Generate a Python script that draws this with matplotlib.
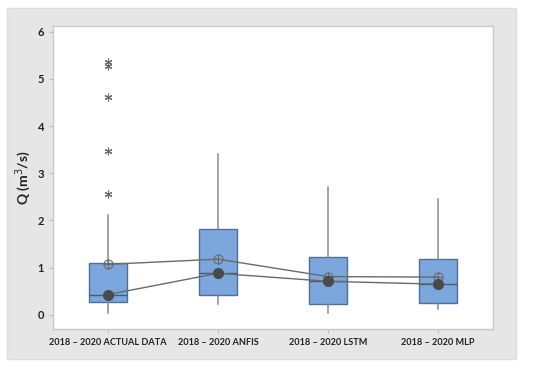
import matplotlib
matplotlib.use("Agg")
from matplotlib import pyplot as plt
from matplotlib.patches import Rectangle
import numpy as np

# data
labels = ["2018 – 2020 ACTUAL DATA", "2018 – 2020 ANFIS", "2018 – 2020 LSTM", "2018 – 2020 MLP"]
whislo = [0.03, 0.23, 0.03, 0.13]
q1 = [0.28, 0.42, 0.24, 0.26]
med = [0.43, 0.88, 0.71, 0.65]
q3 = [1.09, 1.82, 1.23, 1.19]
whishi = [2.11, 3.41, 2.70, 2.46]
means = [1.07, 1.18, 0.81, 0.80]
outliers = [[2.55, 3.48, 4.61, 5.27, 5.35], [], [], []]

plt.rcParams['font.family'] = ['Lato', 'DejaVu Sans']

fig = plt.figure(figsize=(5.5, 3.68), dpi=100)
fig.patch.set_facecolor('white')
# gray panel behind the plot
fig.patches.append(Rectangle((7/550, 1 - 359/368), (516-7)/550, (359-8)/368,
                             transform=fig.transFigure, facecolor='#e6e6e6',
                             edgecolor='#dcdcdc', zorder=-10))

ax = fig.add_axes([53/550, 1 - 329/368, (493-53)/550, (329-26)/368])
ax.set_facecolor('white')

pos = np.arange(1, len(labels) + 1)
stats = []
for i in range(len(labels)):
    stats.append(dict(whislo=whislo[i], q1=q1[i], med=med[i], q3=q3[i],
                      whishi=whishi[i], fliers=outliers[i], mean=means[i]))

ax.bxp(stats, positions=pos, widths=0.34, patch_artist=True, showcaps=False,
       showfliers=True,
       boxprops=dict(facecolor='#7ba7dc', edgecolor='#4f6f99', linewidth=1.0),
       medianprops=dict(color='#4a5a70', linewidth=1.0),
       whiskerprops=dict(color='#8a8a8a', linewidth=1.1),
       flierprops=dict(marker=(6, 2, 0), markersize=5.5, markeredgecolor='#6a6a6a',
                       markerfacecolor='#6a6a6a', markeredgewidth=0.8, linestyle='none'))

# mean connect line and symbols
ax.plot(pos, means, color='#6a6a6a', linewidth=1.0, zorder=3)
ax.plot(pos, means, linestyle='none', marker='o', markersize=6.5,
        markerfacecolor='none', markeredgecolor='#6a6a6a', markeredgewidth=0.8, zorder=4)
ax.plot(pos, means, linestyle='none', marker='+', markersize=6.5,
        markeredgecolor='#6a6a6a', markeredgewidth=0.8, zorder=4)
# median connect line and dots
ax.plot(pos, med, color='#6a6a6a', linewidth=1.0, zorder=3)
ax.plot(pos, med, linestyle='none', marker='o', markersize=7,
        markerfacecolor='#4a4a4a', markeredgecolor='#4a4a4a', zorder=4)

ax.set_xlim(0.5, 4.5)
ax.set_ylim(-0.3, 6.12)
ax.set_yticks(range(0, 7))
ax.set_xticks(pos)
ax.set_xticklabels(labels)
ax.tick_params(axis='both', colors='#c0c0c0', labelcolor='#222222',
               length=3, width=0.8)
ax.tick_params(axis='x', labelsize=6.6)
ax.tick_params(axis='y', labelsize=8)
for lab in ax.get_xticklabels() + ax.get_yticklabels():
    lab.set_fontweight('bold')
for s in ax.spines.values():
    s.set_color('#c8c8c8')
    s.set_linewidth(1.0)

ax.set_ylabel('Q (m$^3$/s)', fontsize=10, fontweight='bold', color='#222222', labelpad=3)

fig.savefig('out.png', dpi=100, facecolor=fig.get_facecolor())
